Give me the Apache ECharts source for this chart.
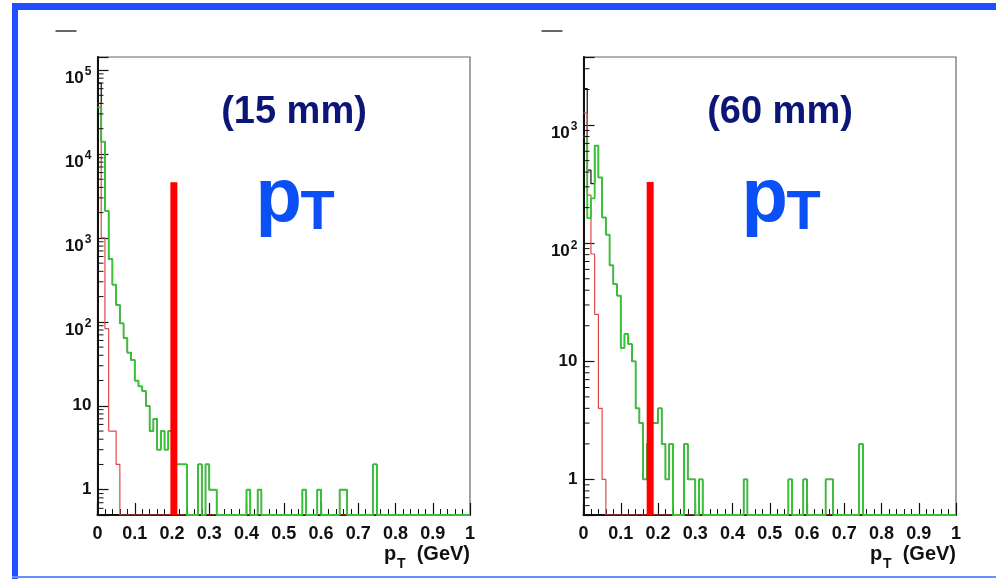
<!DOCTYPE html>
<html>
<head>
<meta charset="utf-8">
<script src="https://cdn.jsdelivr.net/npm/echarts@6/dist/echarts.min.js"></script>
<style>
  html, body { margin: 0; padding: 0; background: #fff; }
  #chart { width: 996px; height: 579px; }
</style>
</head>
<body>
<div id="chart"></div>
<script>
// histogram binning: 100 bins over 0..1 GeV
const nBins = 100;
const binWidth = 0.01;
const xTicks = [0, 0.1, 0.2, 0.3, 0.4, 0.5, 0.6, 0.7, 0.8, 0.9, 1];

// left panel (15 mm)
const leftGreen = [
  36000, 14000, 2100, 560, 277, 159, 96, 64, 43, 35,
  20, 17, 15, 10, 5, 7, 3, 5, 3, 5,
  2, 2, 2, 2, 0, 0, 0, 2, 0, 2,
  1, 1, 0, 0, 0, 0, 0, 0, 0, 0,
  1, 0, 0, 1, 0, 0, 0, 0, 0, 0,
  0, 0, 0, 0, 0, 1, 0, 0, 0, 1,
  0, 0, 0, 0, 0, 1, 1, 0, 0, 0,
  0, 0, 0, 0, 2, 0, 0, 0, 0, 0,
  0, 0, 0, 0, 0, 0, 0, 0, 0, 0,
  0, 0, 0, 0, 0, 0, 0, 0, 0, 0
];
const leftRedHead = [40000, 1000, 83, 5, 5, 2];
const leftBlackHead = [70000];
const leftYRange = [0.5, 143000];
const leftDecades = [0.1, 1, 10, 100, 1000, 10000];
const leftCut = { x: 0.205, top: 4600 };

// right panel (60 mm)
const rightGreen = [
  800, 163, 240, 670, 360, 165, 118, 65, 45, 36,
  13, 17, 14, 10, 4, 3, 1, 2, 3, 3,
  4, 2, 1, 2, 0, 0, 0, 2, 1, 1,
  0, 1, 0, 0, 0, 0, 0, 0, 0, 0,
  0, 0, 0, 1, 0, 0, 0, 0, 0, 0,
  0, 0, 0, 0, 0, 1, 0, 0, 0, 1,
  0, 0, 0, 0, 0, 1, 1, 0, 0, 0,
  0, 0, 0, 0, 2, 0, 0, 0, 0, 0,
  0, 0, 0, 0, 0, 0, 0, 0, 0, 0,
  0, 0, 0, 0, 0, 0, 0, 0, 0, 0
];
const rightRedHead = [1260, 255, 81, 25, 4, 1];
const rightBlackHead = [2040, 415, 320];
const rightYRange = [0.5, 3770];
const rightDecades = [0.1, 1, 10, 100, 1000];
const rightCut = { x: 0.179, top: 330 };

const minorMult = [2, 3, 4, 5, 6, 7, 8, 9];
const panelLabels = ['(15 mm)', '(60 mm)'];

const FONT = '"Liberation Sans", Arial, Helvetica, sans-serif';
const GREEN = '#36c436';
const RED_LINE = '#e04848';
const BLACK = '#111';

function padBins(head) {
  const out = new Array(nBins).fill(0);
  head.forEach((v, i) => { out[i] = v; });
  return out;
}

// step points: left edge of every bin plus closing point at the upper edge
function stepData(values, floor) {
  const pts = values.map((v, i) => [i * binWidth, v > 0 ? v : floor]);
  const last = values[values.length - 1];
  pts.push([nBins * binWidth, last > 0 ? last : floor]);
  return pts;
}

function logLabel(v) {
  const lg = Math.log10(v);
  const e = Math.round(lg);
  if (Math.abs(lg - e) > 1e-6) return '';
  if (e === 0) return '1';
  if (e === 1) return '10';
  return '{b|10}{s|' + e + '}';
}

function minorValues(decades, range) {
  const out = [];
  decades.forEach(d => minorMult.forEach(m => {
    const v = d * m;
    if (v > range[0] && v < range[1]) out.push(v);
  }));
  return out;
}

const grids = [
  { left: 97.5, top: 57, width: 372.5, height: 458 },
  { left: 583.5, top: 57, width: 372.5, height: 458 }
];

const panels = [
  { green: leftGreen, red: padBins(leftRedHead), blackHead: leftBlackHead, range: leftYRange, decades: leftDecades, cut: leftCut },
  { green: rightGreen, red: padBins(rightRedHead), blackHead: rightBlackHead, range: rightYRange, decades: rightDecades, cut: rightCut }
];

const xAxes = grids.map((g, i) => ({
  type: 'value', gridIndex: i, min: 0, max: 1, interval: 0.1,
  axisLine: { show: true, onZero: false, lineStyle: { color: BLACK, width: 2 } },
  axisTick: { inside: true, length: 12, lineStyle: { color: BLACK, width: 1.2 } },
  minorTick: { show: true, splitNumber: 5, length: 6, lineStyle: { color: BLACK, width: 1 } },
  splitLine: { show: false },
  axisLabel: {
    margin: 10, fontSize: 18, fontWeight: 'bold', color: BLACK, fontFamily: FONT,
    formatter: v => String(Number(v.toFixed(1)))
  }
}));

const yAxes = panels.map((p, i) => ({
  type: 'log', gridIndex: i, logBase: 10, min: p.range[0], max: p.range[1],
  axisLine: { show: true, lineStyle: { color: BLACK, width: 2 } },
  axisTick: { inside: true, length: 11, lineStyle: { color: BLACK, width: 1.2 } },
  splitLine: { show: false },
  axisLabel: {
    margin: 6, fontSize: 17, fontWeight: 'bold', color: BLACK, fontFamily: FONT,
    formatter: logLabel,
    rich: {
      b: { fontSize: 17, fontWeight: 'bold', fontFamily: FONT, color: BLACK, lineHeight: 18, padding: [9, 0, 0, 0], verticalAlign: 'top' },
      s: { fontSize: 12, fontWeight: 'bold', fontFamily: FONT, color: BLACK, lineHeight: 12, padding: [5, 0, 0, 1], verticalAlign: 'top' }
    }
  }
}));

const series = [];
panels.forEach((p, i) => {
  const floor = p.range[0];
  const black = p.green.map((v, k) => k < p.blackHead.length ? p.blackHead[k] : Math.max(v, p.red[k]));
  const common = { type: 'line', xAxisIndex: i, yAxisIndex: i, step: 'end', symbol: 'none', silent: true, animation: false };
  series.push(Object.assign({}, common, { name: 'all', data: stepData(black, floor), lineStyle: { color: BLACK, width: 1.2 }, z: 2 }));
  series.push(Object.assign({}, common, { name: 'red', data: stepData(p.red, floor), lineStyle: { color: RED_LINE, width: 1.2 }, z: 3 }));
  series.push(Object.assign({}, common, { name: 'green', data: stepData(p.green, floor), lineStyle: { color: GREEN, width: 1.8 }, z: 4 }));
  // cut line
  series.push({
    type: 'line', xAxisIndex: i, yAxisIndex: i, symbol: 'none', silent: true, z: 6,
    data: [[p.cut.x, floor], [p.cut.x, p.cut.top]],
    lineStyle: { color: '#ff0000', width: 7, cap: 'butt' }
  });
  // log minor ticks on the y axis
  series.push({
    type: 'custom', xAxisIndex: i, yAxisIndex: i, silent: true, z: 5,
    data: minorValues(p.decades, p.range).map(v => [0, v]),
    renderItem: (params, api) => {
      const pt = api.coord([0, api.value(1)]);
      return { type: 'line', shape: { x1: pt[0], y1: pt[1], x2: pt[0] + 6, y2: pt[1] }, style: { stroke: BLACK, lineWidth: 1 } };
    }
  });
});

const BLUE_FRAME = '#1f4fff';
const graphic = [
  { type: 'rect', shape: { x: 12, y: 3, width: 984, height: 7 }, style: { fill: BLUE_FRAME } },
  { type: 'rect', shape: { x: 12, y: 3, width: 6, height: 576 }, style: { fill: BLUE_FRAME } },
  { type: 'rect', shape: { x: 12, y: 576, width: 984, height: 2 }, style: { fill: '#6a8cff' } }
];
grids.forEach((g, i) => {
  const right = g.left + g.width;
  const cx = g.left + 196.5;
  graphic.push(
    { type: 'line', shape: { x1: g.left - 42, y1: 31, x2: g.left - 21, y2: 31 }, style: { stroke: '#333', lineWidth: 1.5 } },
    { type: 'text', style: { text: panelLabels[i], x: cx, y: 113, font: 'bold 38px ' + FONT, fill: '#0b1677', align: 'center', verticalAlign: 'middle' } },
    { type: 'text', style: { text: 'p', x: g.left + 158, y: 200, font: 'bold 76px ' + FONT, fill: '#0b50f5', align: 'left', verticalAlign: 'middle' } },
    { type: 'text', style: { text: 'T', x: g.left + 203, y: 214, font: 'bold 56px ' + FONT, fill: '#0b50f5', align: 'left', verticalAlign: 'middle' } },
    { type: 'text', style: { text: 'p', x: right - 86, y: 554, font: 'bold 20px ' + FONT, fill: BLACK, align: 'left', verticalAlign: 'middle' } },
    { type: 'text', style: { text: 'T', x: right - 73, y: 564, font: 'bold 14px ' + FONT, fill: BLACK, align: 'left', verticalAlign: 'middle' } },
    { type: 'text', style: { text: '(GeV)', x: right, y: 554, font: 'bold 20px ' + FONT, fill: BLACK, align: 'right', verticalAlign: 'middle' } }
  );
});

const chart = echarts.init(document.getElementById('chart'), null, { renderer: 'canvas' });
chart.setOption({
  backgroundColor: '#fff',
  animation: false,
  grid: grids.map(g => Object.assign({ show: true, borderColor: '#666', borderWidth: 1.2, backgroundColor: 'transparent' }, g)),
  xAxis: xAxes,
  yAxis: yAxes,
  series: series,
  graphic: graphic
});
</script>
</body>
</html>
